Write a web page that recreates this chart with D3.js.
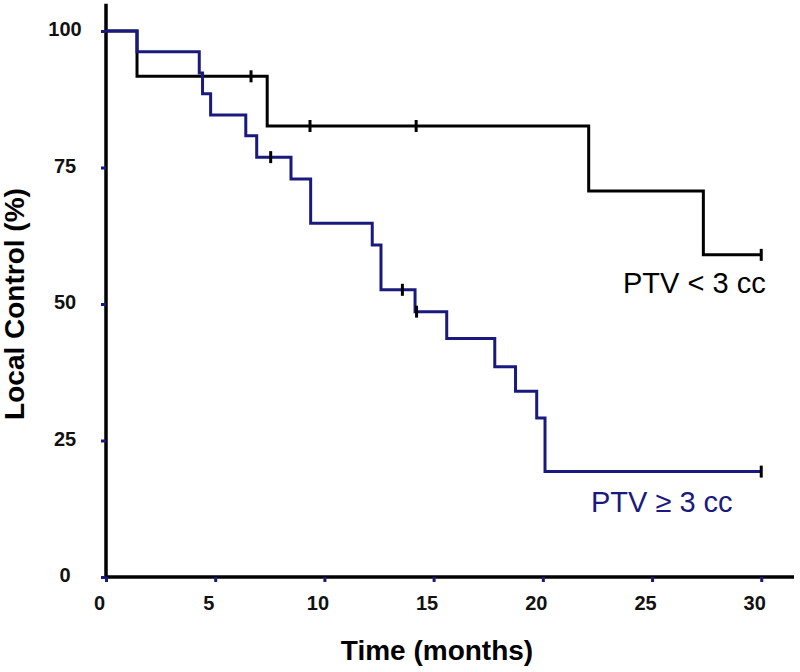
<!DOCTYPE html>
<html>
<head>
<meta charset="utf-8">
<script src="https://cdn.jsdelivr.net/npm/d3@7"></script>
<style>
  html, body { margin: 0; padding: 0; background: #fff; }
  svg { display: block; font-family: "Liberation Sans", Arial, sans-serif; }
</style>
</head>
<body>
<svg id="chart" width="800" height="672"></svg>
<script>
// ---- data ----
const xTicks = [0, 5, 10, 15, 20, 25, 30];
const yTicks = [0, 25, 50, 75, 100];

// PTV < 3 cc (black)
const smallTimes = [0, 1.42, 7.38, 22.1, 27.35, 30];
const smallSurv  = [100, 91.7, 82.6, 70.7, 59.0, 59.0];
const smallCensorTimes = [6.64, 9.34, 14.2, 30];
const smallCensorSurv  = [91.7, 82.6, 82.6, 59.0];

// PTV >= 3 cc (navy)
const largeTimes = [0, 1.42, 4.27, 4.42, 4.79, 6.4, 6.9, 8.47, 9.37, 12.19, 12.59, 14.15, 15.6, 17.8, 18.75, 19.72, 20.1, 30];
const largeSurv  = [100, 96.2, 92.3, 88.5, 84.6, 80.8, 76.9, 72.9, 64.8, 60.8, 52.6, 48.6, 43.7, 38.5, 34.0, 29.1, 19.3, 19.3];
const largeCensorTimes = [7.54, 13.57, 14.22, 30];
const largeCensorSurv  = [76.9, 52.6, 48.6, 19.3];

const seriesLabels = ["PTV < 3 cc", "PTV \u2265 3 cc"];

// ---- layout ----
const svg = d3.select("#chart");
const x = d3.scaleLinear().domain([0, 31.5]).range([106, 794]);
const y = d3.scaleLinear().domain([0, 105]).range([577, 3.7]);
const NAVY = "#1a1a7e";
const INK = "#000";

// axes
const xAxis = svg.append("g").attr("transform", `translate(0,${y(0)})`)
  .call(d3.axisBottom(x).tickValues(xTicks).tickSize(5).tickSizeOuter(0).tickFormat(d3.format("d")));
const yAxis = svg.append("g").attr("transform", `translate(${x(0)},0)`)
  .call(d3.axisLeft(y).tickValues(yTicks).tickSize(5).tickSizeOuter(0).tickFormat(d3.format("d")));

[xAxis, yAxis].forEach(g => {
  g.select(".domain").attr("stroke", INK).attr("stroke-width", 3.5);
  g.selectAll(".tick line").attr("stroke", NAVY).attr("stroke-width", 3);
  g.selectAll(".tick text")
    .attr("fill", "#111")
    .style("font-size", "20px")
    .style("font-weight", "bold")
    .style("font-family", "'Liberation Sans', Arial, sans-serif");
});
xAxis.selectAll(".tick text").attr("y", 33).attr("dy", 0).attr("dx", -7).attr("text-anchor", "middle");
yAxis.selectAll(".tick text").attr("x", -41).attr("dy", 0).attr("y", 4.5).attr("text-anchor", "middle");

// extend domains to the drawn range ends
xAxis.select(".domain").attr("d", `M${x(0)},0H${x(31.5)}`);
yAxis.select(".domain").attr("d", `M0,${y(0)}V${y(105)}`);

// step curves
const line = d3.line().x(d => x(d[0])).y(d => y(d[1])).curve(d3.curveStepAfter);

function drawSeries(times, surv, cTimes, cSurv, color) {
  const pts = times.map((t, i) => [t, surv[i]]);
  svg.append("path").datum(pts)
    .attr("fill", "none").attr("stroke", color).attr("stroke-width", 3)
    .attr("stroke-linejoin", "miter").attr("d", line);
  svg.append("g").selectAll("line")
    .data(cTimes.map((t, i) => [t, cSurv[i]]))
    .join("line")
    .attr("x1", d => x(d[0])).attr("x2", d => x(d[0]))
    .attr("y1", d => y(d[1]) - 6).attr("y2", d => y(d[1]) + 6)
    .attr("stroke", INK).attr("stroke-width", 3);
}
drawSeries(smallTimes, smallSurv, smallCensorTimes, smallCensorSurv, INK);
drawSeries(largeTimes, largeSurv, largeCensorTimes, largeCensorSurv, NAVY);

// series labels
svg.append("text").attr("x", 623).attr("y", 293)
  .style("font-size", "29px").attr("fill", INK).text(seriesLabels[0]);
svg.append("text").attr("x", 591).attr("y", 512)
  .style("font-size", "29px").attr("fill", NAVY).text(seriesLabels[1]);

// axis titles
svg.append("text").attr("x", 437).attr("y", 660).attr("text-anchor", "middle")
  .style("font-size", "28px").style("font-weight", "bold").attr("fill", INK)
  .text("Time (months)");
svg.append("text").attr("transform", "translate(24,304) rotate(-90)").attr("text-anchor", "middle")
  .style("font-size", "28px").style("font-weight", "bold").attr("fill", INK)
  .text("Local Control (%)");
</script>
</body>
</html>
